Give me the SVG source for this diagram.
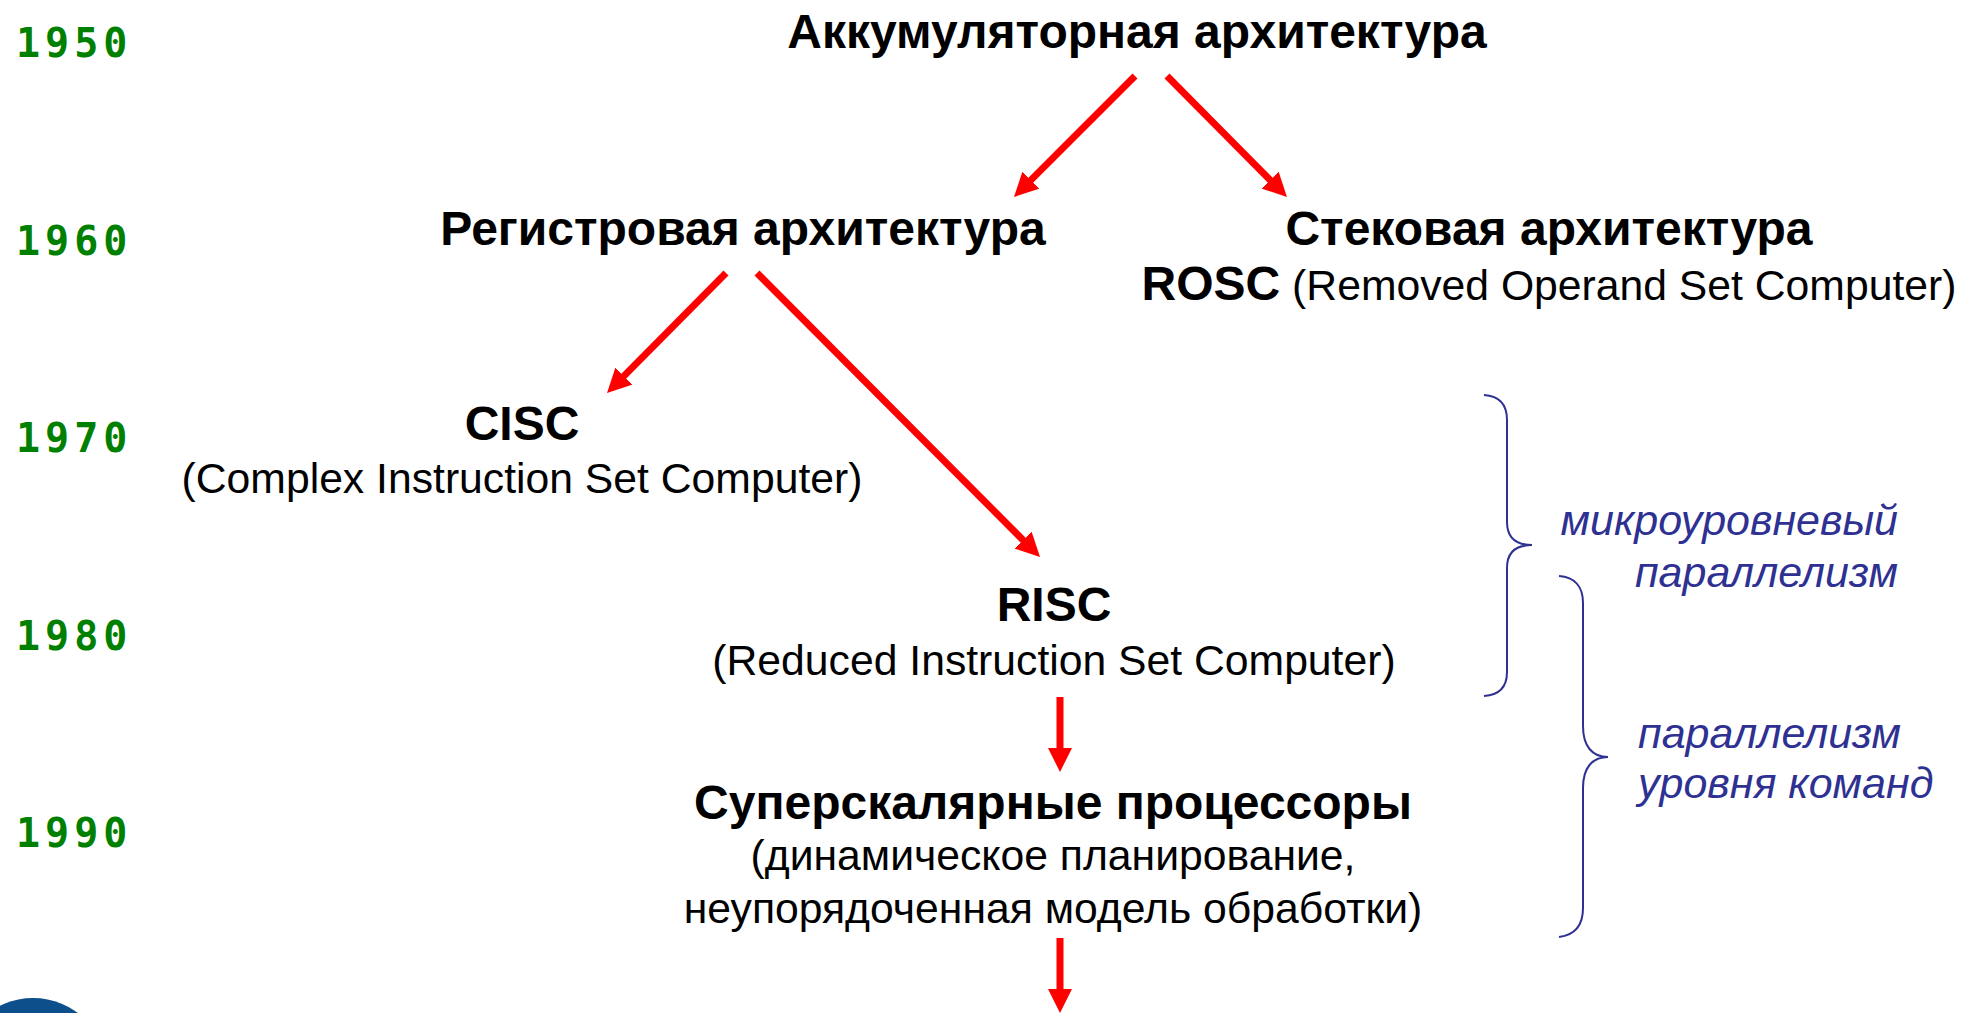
<svg xmlns="http://www.w3.org/2000/svg" width="1962" height="1013" viewBox="0 0 1962 1013">
  <style>
    .yr { font-family: "DejaVu Sans Mono", "Liberation Mono", monospace; font-weight: bold; font-size: 40px; fill: #008000; letter-spacing: 5px; }
    .hb { font-family: "Liberation Sans", Arial, sans-serif; font-weight: bold; font-size: 48px; fill: #000; }
    .rg { font-family: "Liberation Sans", Arial, sans-serif; font-size: 42.7px; fill: #000; }
    .it { font-family: "Liberation Sans", Arial, sans-serif; font-style: italic; font-size: 43px; fill: #2e3192; }
    .arr { stroke: #ff0000; stroke-width: 7; fill: none; marker-end: url(#ah); }
    .brace { stroke: #2e3192; stroke-width: 2; fill: none; }
  </style>
  <defs>
    <marker id="ah" markerUnits="userSpaceOnUse" markerWidth="24" markerHeight="24" viewBox="0 0 24 24" refX="4" refY="12" orient="auto">
      <path d="M0,0 L24,12 L0,24 z" fill="#ff0000"/>
    </marker>
  </defs>
  <rect width="1962" height="1013" fill="#ffffff"/>

  <g id="years">
    <text class="yr" x="16" y="57">1950</text>
    <text class="yr" x="16" y="255">1960</text>
    <text class="yr" x="16" y="452">1970</text>
    <text class="yr" x="16" y="650">1980</text>
    <text class="yr" x="16" y="847">1990</text>
  </g>

  <g id="logo">
    <circle cx="33" cy="1073" r="75" fill="#0d4f8b"/>
  </g>

  <g id="acc">
    <text class="hb" x="1137" y="48" text-anchor="middle">Аккумуляторная архитектура</text>
  </g>
  <g id="reg">
    <text class="hb" x="743" y="245" text-anchor="middle">Регистровая архитектура</text>
  </g>
  <g id="stack">
    <text class="hb" x="1549" y="245" text-anchor="middle">Стековая архитектура</text>
    <text x="1549" y="300" text-anchor="middle"><tspan class="hb">ROSC</tspan><tspan class="rg"> (Removed Operand Set Computer)</tspan></text>
  </g>
  <g id="cisc">
    <text class="hb" x="522" y="440" text-anchor="middle">CISC</text>
    <text class="rg" x="522" y="493" text-anchor="middle">(Complex Instruction Set Computer)</text>
  </g>
  <g id="risc">
    <text class="hb" x="1054" y="621" text-anchor="middle">RISC</text>
    <text class="rg" x="1054" y="675" text-anchor="middle">(Reduced Instruction Set Computer)</text>
  </g>
  <g id="superscalar">
    <text class="hb" x="1053" y="819" text-anchor="middle">Суперскалярные процессоры</text>
    <text class="rg" x="1053" y="870" text-anchor="middle">(динамическое планирование,</text>
    <text class="rg" x="1053" y="923" text-anchor="middle">неупорядоченная модель обработки)</text>
  </g>

  <g id="micro">
    <path class="brace" d="M1484,395 C1500,396 1507,405 1507,420 L1507,522 C1507,537 1515,545 1532,545 C1515,545 1507,553 1507,568 L1507,672 C1507,687 1500,695 1484,696"/>
    <text class="it" x="1898" y="535" text-anchor="end">микроуровневый</text>
    <text class="it" x="1898" y="587" text-anchor="end">параллелизм</text>
  </g>
  <g id="ilp">
    <path class="brace" d="M1559,576 C1575,577 1583,587 1583,603 L1583,726 C1583,746 1592,757 1608,757 C1592,757 1583,768 1583,788 L1583,908 C1583,925 1575,935 1559,937"/>
    <text class="it" x="1638" y="748">параллелизм</text>
    <text class="it" x="1638" y="798">уровня команд</text>
  </g>

  <g id="connectors">
    <line class="arr" x1="1135" y1="76" x2="1028.1" y2="182.9"/>
    <line class="arr" x1="1167" y1="76" x2="1272.9" y2="182.9"/>
    <line class="arr" x1="726" y1="273" x2="621.1" y2="378.9"/>
    <line class="arr" x1="757" y1="273" x2="1025.9" y2="542.9"/>
    <line class="arr" x1="1060" y1="697" x2="1060" y2="752"/>
    <line class="arr" x1="1060" y1="938" x2="1060" y2="993"/>
  </g>
</svg>
